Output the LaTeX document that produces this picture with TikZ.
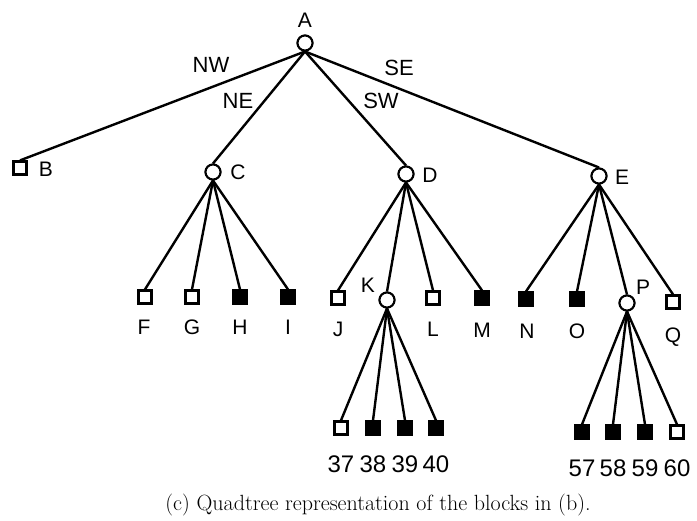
\documentclass[tikz,border=0pt]{standalone}
\usepackage{fontspec}
\newfontfamily\labfont{Liberation Sans}
\begin{document}
\begin{tikzpicture}[x=1pt,y=-1pt,
  inner/.style={circle,draw,line width=2pt,minimum size=15pt,inner sep=0pt,fill=white},
  leaf/.style={rectangle,draw,line width=2.2pt,minimum size=13pt,inner sep=0pt,fill=white},
  full/.style={leaf,fill=black},
  edge/.style={line width=2.4pt},
  lab/.style={font=\labfont\fontsize{21}{22}\selectfont,inner sep=0pt},
  dir/.style={font=\labfont\fontsize{22}{24}\selectfont,inner sep=0pt},
  num/.style={font=\labfont\fontsize{24}{26}\selectfont,inner sep=0pt}]
\useasboundingbox[fill=white] (0,0) rectangle (697,521);

% internal nodes
\node[inner] (A) at (305,43) {};
\node[inner] (C) at (213,172) {};
\node[inner] (D) at (406,174) {};
\node[inner] (E) at (599,176) {};
\node[inner] (K) at (387,300) {};
\node[inner] (P) at (627,303) {};

% leaves
\node[leaf] (B) at (20,168) {};
\node[leaf] (F) at (145,297) {};
\node[leaf] (G) at (192,297) {};
\node[full] (H) at (240,297) {};
\node[full] (I) at (288,297) {};
\node[leaf] (J) at (338,298) {};
\node[leaf] (L) at (433,298) {};
\node[full] (M) at (482,298) {};
\node[full] (N) at (526,299) {};
\node[full] (O) at (577,299) {};
\node[leaf] (Q) at (673,302) {};
\node[leaf] (n37) at (341,428) {};
\node[full] (n38) at (373,428) {};
\node[full] (n39) at (405,428) {};
\node[full] (n40) at (436,428) {};
\node[full] (n57) at (582,432) {};
\node[full] (n58) at (613,432) {};
\node[full] (n59) at (645,432) {};
\node[leaf] (n60) at (677,432) {};

% branches
\foreach \p/\c in {A/B,A/C,A/D,A/E,C/F,C/G,C/H,C/I,D/J,D/K,D/L,D/M,
                   E/N,E/O,E/P,E/Q,K/n37,K/n38,K/n39,K/n40,P/n57,P/n58,P/n59,P/n60}
  \draw[edge] (\p.south) -- (\c.north);
% redraw internal nodes above the branches
\foreach \n in {A,C,D,E,K,P}
  \draw[line width=2pt,fill=white] (\n) circle (7.5pt);

% node labels
\node[lab] (tA) at (305,20) {A};
\node[lab] (tB) at (46,169) {B};
\node[lab] (tC) at (238,172) {C};
\node[lab] (tD) at (430,175) {D};
\node[lab] (tE) at (622,177) {E};
\node[lab] (tF) at (144,327) {F};
\node[lab] (tG) at (192,327) {G};
\node[lab] (tH) at (240,327) {H};
\node[lab] (tI) at (288,327) {I};
\node[lab] (tJ) at (338,329) {J};
\node[lab] (tK) at (368,285) {K};
\node[lab] (tL) at (433,329) {L};
\node[lab] (tM) at (482,330) {M};
\node[lab] (tN) at (527,331) {N};
\node[lab] (tO) at (577,331) {O};
\node[lab] (tP) at (643,287) {P};
\node[lab] (tQ) at (673,337) {Q};

% quadrant labels
\node[dir] (tNW) at (211,65) {NW};
\node[dir] (tNE) at (238,101) {NE};
\node[dir] (tSE) at (399,68) {SE};
\node[dir] (tSW) at (381,101) {SW};

% block numbers
\node[num] (t37) at (341,464) {37};
\node[num] (t38) at (373,464) {38};
\node[num] (t39) at (405,464) {39};
\node[num] (t40) at (436,464) {40};
\node[num] (t57) at (582,468) {57};
\node[num] (t58) at (613,468) {58};
\node[num] (t59) at (645,468) {59};
\node[num] (t60) at (677,468) {60};

% caption
\node[inner sep=0pt,font=\fontsize{22}{24}\selectfont] (cap) at (378,505)
  {(c) Quadtree representation of the blocks in (b).};
\end{tikzpicture}
\end{document}
